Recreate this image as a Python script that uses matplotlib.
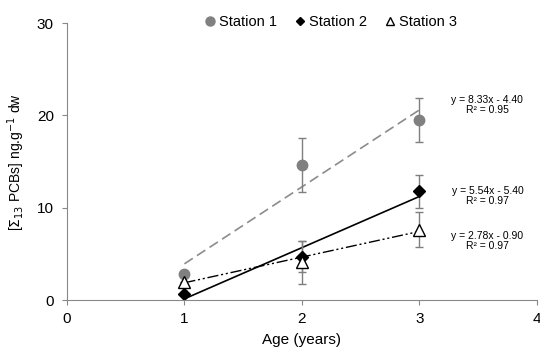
import matplotlib
matplotlib.use("Agg")
import matplotlib.pyplot as plt
from matplotlib.lines import Line2D
import numpy as np

plt.rcParams['font.family'] = ['Liberation Sans', 'DejaVu Sans']

# data
age = [1, 2, 3]
station1 = [2.8, 14.6, 19.5]
station1_err = [0.0, 2.9, 2.4]
station2 = [0.7, 4.7, 11.8]
station2_err = [0.0, 1.7, 1.8]
station3 = [2.0, 4.1, 7.6]
station3_err = [0.0, 2.3, 1.9]

slopes = [8.33, 5.54, 2.78]
intercepts = [-4.40, -5.40, -0.90]
r2 = [0.95, 0.97, 0.97]
labels = ['Station 1', 'Station 2', 'Station 3']

fig = plt.figure(figsize=(5.4, 3.49), dpi=100)
ax = fig.add_axes([0.124, 0.14, 0.87, 0.794])

grey = '#7f7f7f'
xfit = np.array([1, 3])

# trendlines
ax.plot(xfit, slopes[0] * xfit + intercepts[0], color='#8c8c8c', lw=1.2, ls=(0, (6, 3)))
ax.plot(xfit, slopes[1] * xfit + intercepts[1], color='black', lw=1.2, ls='-')
ax.plot(xfit, slopes[2] * xfit + intercepts[2], color='black', lw=1.0,
        ls=(0, (8, 2, 1.5, 2, 1.5, 2)))

# points + error bars
ebkw = dict(ecolor=grey, elinewidth=1.0, capsize=3, capthick=1.0, ls='none')
ax.errorbar(age, station1, yerr=station1_err, fmt='o', color='#808080', ms=7.5, **ebkw)
ax.errorbar(age, station2, yerr=station2_err, fmt='D', color='black', ms=6, **ebkw)
ax.errorbar(age, station3, yerr=station3_err, fmt='^', mfc='white', mec='black',
            mew=1.0, ms=8, **ebkw)

# equations
eq_y = [(22.2, 19.6), (12.4, 9.8), (7.5, 4.9)]
for i in range(3):
    sign = '-' if intercepts[i] < 0 else '+'
    txt = f"y = {slopes[i]:.2f}x {sign} {abs(intercepts[i]):.2f}\nR² = {r2[i]:.2f}"
    ax.text(3.58, eq_y[i][0], txt, ha='center', va='top', fontsize=7.5, linespacing=1.05)

ax.set_xlim(0, 4)
ax.set_ylim(0, 30)
ax.set_xticks([0, 1, 2, 3, 4])
ax.set_yticks([0, 10, 20, 30])
for s in ['top', 'right']:
    ax.spines[s].set_visible(False)
for s in ['left', 'bottom']:
    ax.spines[s].set_color('#888888')
ax.tick_params(colors='#888888', labelcolor='black', labelsize=11, length=3.5, pad=5)
ax.tick_params(axis='y', pad=6)

ax.set_xlabel('Age (years)', fontsize=11, labelpad=5)
ax.set_ylabel(r'[$\Sigma_{13}$ PCBs] ng.g$^{-1}$ dw', fontsize=10, labelpad=7)

# legend
handles = [
    Line2D([], [], marker='o', color='#808080', ls='none', ms=6.5),
    Line2D([], [], marker='D', color='black', ls='none', ms=4.5),
    Line2D([], [], marker='^', mfc='white', mec='black', ls='none', ms=5.5),
]
fig.legend(handles, labels, loc='center', bbox_to_anchor=(0.61, 0.937), ncol=3,
           frameon=False, fontsize=10.5, handletextpad=0.0, columnspacing=1.0,
           handlelength=1.2)

fig.savefig('out.png', dpi=100)
